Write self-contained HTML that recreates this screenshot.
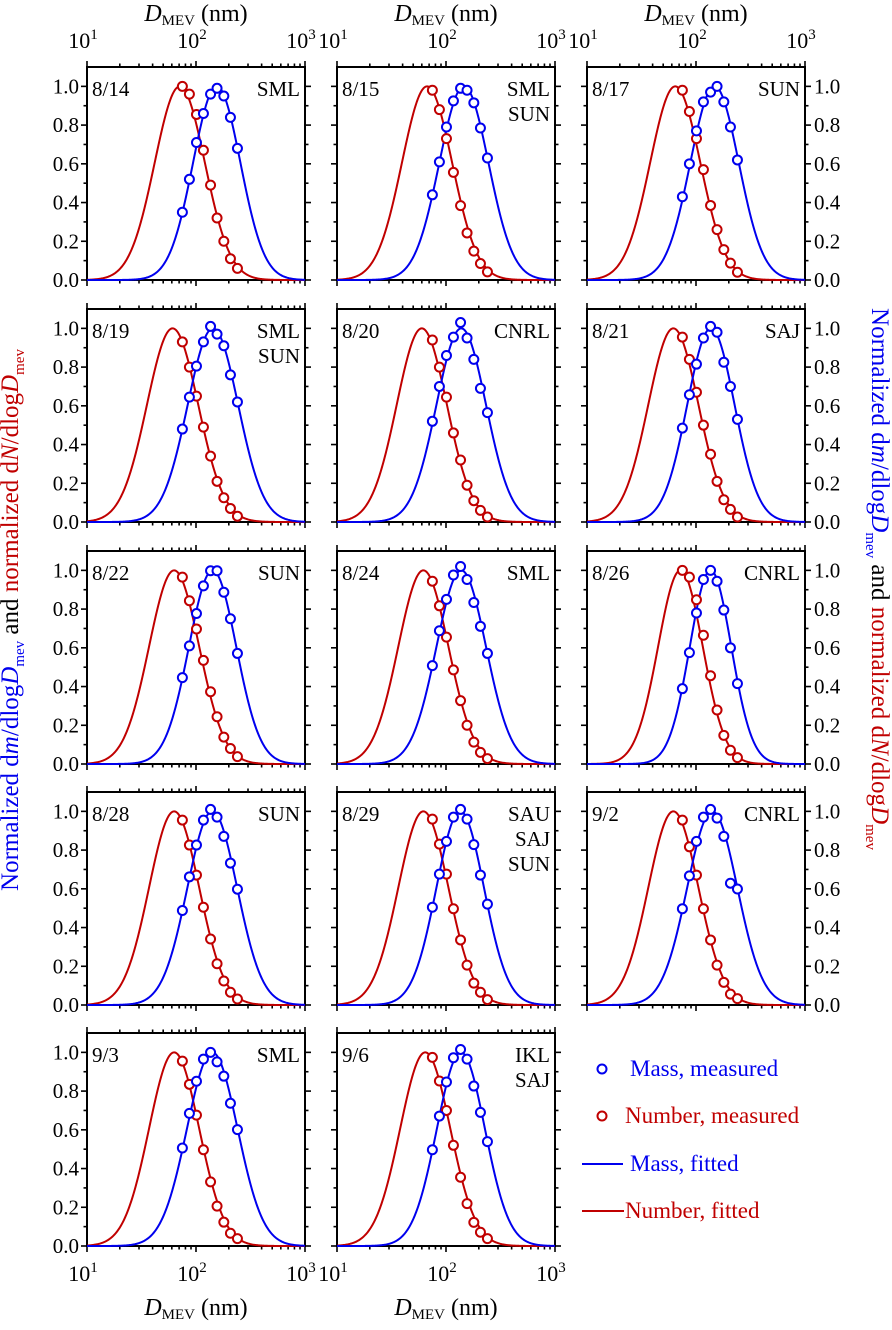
<!DOCTYPE html>
<html><head><meta charset="utf-8"><style>
html,body{margin:0;padding:0;background:#fff}
svg{display:block;font-family:"Liberation Serif",serif}
</style></head><body>
<svg id="fig" width="892" height="1330" viewBox="0 0 892 1330" xmlns="http://www.w3.org/2000/svg" font-family="'Liberation Serif', serif">
<g>
<text transform="translate(18,620) rotate(-90)" text-anchor="middle" font-size="25"><tspan fill="#0000ee">Normalized d<tspan font-style="italic">m</tspan>/dlog<tspan font-style="italic">D</tspan><tspan font-size="15" dy="6">mev</tspan></tspan><tspan fill="#000" dy="-6"> and </tspan><tspan fill="#c00000">normalized d<tspan font-style="italic">N</tspan>/dlog<tspan font-style="italic">D</tspan><tspan font-size="15" dy="6">mev</tspan></tspan></text>
</g>
<g>
<text transform="translate(872,579) rotate(90)" text-anchor="middle" font-size="25"><tspan fill="#0000ee">Normalized d<tspan font-style="italic">m</tspan>/dlog<tspan font-style="italic">D</tspan><tspan font-size="15" dy="6">mev</tspan></tspan><tspan fill="#000" dy="-6"> and </tspan><tspan fill="#c00000">normalized d<tspan font-style="italic">N</tspan>/dlog<tspan font-style="italic">D</tspan><tspan font-size="15" dy="6">mev</tspan></tspan></text>
</g>
<g id="legend">
<g><circle cx="602" cy="1069" r="4.5" fill="#fff" stroke="#0000ee" stroke-width="2"/><text x="630" y="1076" font-size="23" fill="#0000ee">Mass, measured</text></g>
<g><circle cx="602" cy="1116" r="4.5" fill="#fff" stroke="#c00000" stroke-width="2"/><text x="625" y="1123" font-size="23" fill="#c00000">Number, measured</text></g>
<g><line x1="582" y1="1164" x2="623" y2="1164" stroke="#0000ee" stroke-width="2"/><text x="630" y="1171" font-size="23" fill="#0000ee">Mass, fitted</text></g>
<g><line x1="582" y1="1211" x2="624" y2="1211" stroke="#c00000" stroke-width="2"/><text x="625" y="1218" font-size="23" fill="#c00000">Number, fitted</text></g>
</g>
</svg>
<script>
// measured size grid (nm), shared by all panels
const sizes = [75, 87, 101, 117, 136, 156, 180, 207, 240];
const dates = ["8/14","8/15","8/17","8/19","8/20","8/21","8/22","8/24","8/26","8/28","8/29","9/2","9/3","9/6"];
const sites = [["SML"],["SML","SUN"],["SUN"],["SML","SUN"],["CNRL"],["SAJ"],["SUN"],["SML"],["CNRL"],["SUN"],["SAU","SAJ","SUN"],["CNRL"],["SML"],["IKL","SAJ"]];
const massMeasured = [
 [.35,.52,.71,.86,.96,.99,.95,.84,.68],
 [.44,.61,.79,.925,.99,.98,.915,.785,.63],
 [.43,.60,.77,.92,.97,1.0,.92,.79,.62],
 [.48,.645,.805,.93,1.01,.97,.91,.76,.62],
 [.52,.70,.86,.955,1.03,.95,.84,.69,.565],
 [.485,.657,.815,.95,1.01,.98,.825,.70,.53],
 [.446,.61,.777,.92,.998,.998,.887,.75,.571],
 [.508,.688,.85,.976,1.02,.953,.834,.711,.571],
 [.389,.575,.78,.953,1.0,.944,.795,.60,.415],
 [.488,.662,.826,.955,1.01,.97,.871,.733,.598],
 [.505,.676,.845,.97,1.01,.96,.828,.671,.521],
 [.497,.667,.845,.97,1.01,.965,.871,.629,.599],
 [.506,.685,.851,.965,1.0,.951,.877,.737,.601],
 [.497,.671,.847,.972,1.015,.965,.826,.69,.539]
];
const numberMeasured = [
 [1.0,.96,.855,.67,.49,.32,.20,.11,.06],
 [.98,.88,.73,.556,.384,.243,.149,.085,.042],
 [.98,.87,.73,.57,.385,.26,.157,.087,.04],
 [.93,.80,.65,.49,.34,.21,.125,.07,.03],
 [.94,.80,.645,.46,.32,.19,.11,.06,.026],
 [.955,.84,.67,.50,.35,.21,.115,.065,.026],
 [.965,.843,.697,.535,.373,.244,.139,.08,.038],
 [.944,.817,.655,.486,.327,.20,.113,.06,.028],
 [1.0,.965,.848,.665,.456,.279,.148,.071,.033],
 [.955,.826,.671,.505,.341,.213,.124,.066,.031],
 [.96,.831,.676,.497,.336,.206,.113,.066,.028],
 [.955,.817,.671,.497,.336,.206,.117,.056,.033],
 [.955,.835,.676,.497,.331,.206,.123,.066,.038],
 [.974,.852,.70,.52,.355,.219,.122,.071,.038]
];
// lognormal fit parameters (geometric mean nm, sigma in decades)
const massFitPeak = [155,146,148,143,138,137,142,138,136,141,135,141,141,137];
const massFitSigma = [.217,.225,.222,.231,.227,.217,.217,.227,.19,.228,.218,.23,.232,.22];
const numFitPeak = [71,67,64.5,61,60,62,63,62,72,63,62,62,63,64.5];
const numFitSigma = [.23,.23,.23,.235,.23,.23,.23,.23,.205,.23,.23,.23,.23,.23];
const xTickLabels = ["1","2","3"];
const yTickLabels = ["0.0","0.2","0.4","0.6","0.8","1.0"];

const NS="http://www.w3.org/2000/svg";
const svg=document.getElementById('fig');
const BLUE="#0000ee", RED="#c00000";
const colX=[87,337,587], rowY=[67,309,551,792,1033], W=218, H=213;
function mk(tag,attrs,parent){const e=document.createElementNS(NS,tag);for(const k in attrs)e.setAttribute(k,attrs[k]);(parent||svg).appendChild(e);return e;}

dates.forEach((d,i)=>{
  const c=i%3, r=Math.floor(i/3);
  const x0=colX[c], y0=rowY[r];
  const xs=v=>x0+(Math.log10(v)-1)/2*W;
  const ys=v=>y0+H-v/1.1*H;
  const g=mk('g',{});
  
  
  const tk=mk('g',{stroke:'#000','stroke-width':1.6},g);
  
  
  for(let e=1;e<=3;e++){for(let m=1;m<=9;m++){if(e===3&&m>1)break;const v=m*Math.pow(10,e);const px=xs(v);const L=m===1?6:3.5;
    mk('line',{x1:px,x2:px,y1:y0,y2:y0-L},tk);mk('line',{x1:px,x2:px,y1:y0+H,y2:y0+H+L},tk);}}
  for(let k=0;k<=10;k++){const py=ys(k/10);const L=k%2===0?6:3.5;
    mk('line',{x1:x0,x2:x0-L,y1:py,y2:py},tk);mk('line',{x1:x0+W,x2:x0+W+L,y1:py,y2:py},tk);}
  const fr=mk('rect',{x:x0,y:y0,width:W,height:H,fill:'none',stroke:'#000','stroke-width':2},g);
  
  
  function curve(peak,sig,col,name){let p='';for(let k=0;k<=300;k++){const lx=1+2*k/300;const v=Math.exp(-Math.pow(lx-Math.log10(peak),2)/(2*sig*sig));p+=(k?'L':'M')+xs(Math.pow(10,lx)).toFixed(2)+' '+ys(v).toFixed(2);}
    const e=mk('path',{d:p,fill:'none',stroke:col,'stroke-width':2},g);
    
    }
  curve(numFitPeak[i],numFitSigma[i],RED,'number-fitted-curve');
  curve(massFitPeak[i],massFitSigma[i],BLUE,'mass-fitted-curve');
  sizes.forEach((s,j)=>{
    const a=mk('circle',{cx:xs(s),cy:ys(numberMeasured[i][j]),r:4.5,fill:'#fff',stroke:RED,'stroke-width':2},g);
    
    
  });
  sizes.forEach((s,j)=>{
    const b=mk('circle',{cx:xs(s),cy:ys(massMeasured[i][j]),r:4.5,fill:'#fff',stroke:BLUE,'stroke-width':2},g);
    
    
  });
  const dt=mk('text',{x:x0+5,y:y0+29,'font-size':21},g);dt.textContent=d;
  
  
  sites[i].forEach((s,k)=>{const t=mk('text',{x:x0+W-5,y:y0+29+25*k,'font-size':21,'text-anchor':'end'},g);t.textContent=s;
    
    });
  if(c===0||c===2){yTickLabels.forEach((lab,k)=>{const t=mk('text',{x:c===0?x0-8:x0+W+9,y:ys(k*0.2)+7,'font-size':21,'text-anchor':c===0?'end':'start'},g);t.textContent=lab;
    
    });}
  const top=r===0, bot=(r===4);
  if(top||bot){
    const by=top?y0-19:y0+H+35;
    xTickLabels.forEach((lab,k)=>{const t=mk('text',{x:xs(Math.pow(10,k+1))-4,y:by,'font-size':22,'text-anchor':'middle'},g);
      t.textContent='10';const sp=mk('tspan',{'font-size':15,dy:-9},t);sp.textContent=lab;
      
      });
    const tt=mk('text',{x:x0+W/2,y:top?y0-46:y0+H+69,'font-size':24,'text-anchor':'middle'},g);
    
    
    const a=mk('tspan',{'font-style':'italic'},tt);a.textContent='D';
    const b=mk('tspan',{'font-size':15,dy:4},tt);b.textContent='MEV';
    const cc=mk('tspan',{dy:-4},tt);cc.textContent=' (nm)';
  }
});
</script>
</body></html>
